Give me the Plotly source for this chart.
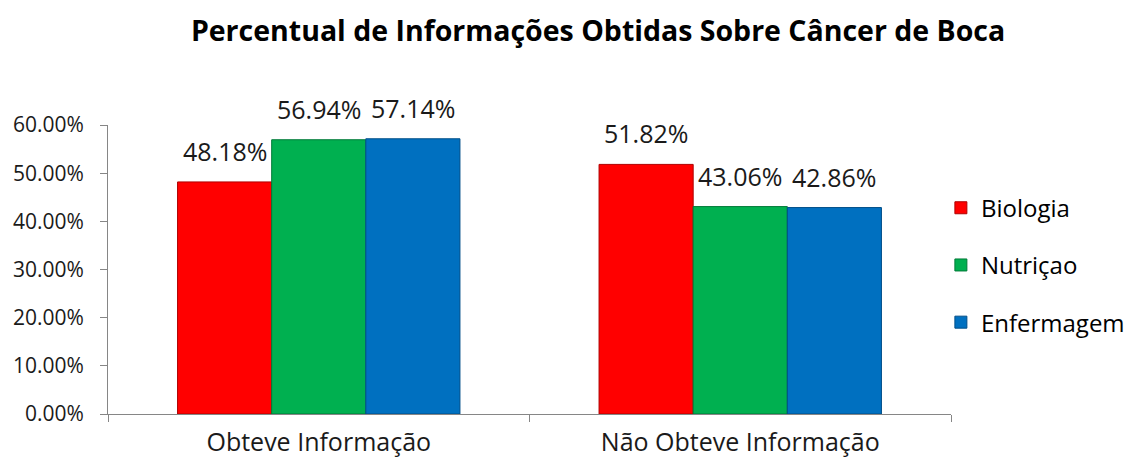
import plotly.graph_objects as go

categories = ["Obteve Informação", "Não Obteve Informação"]
series_names = ["Biologia", "Nutriçao", "Enfermagem"]
biologia = [0.4818, 0.5182]
nutricao = [0.5694, 0.4306]
enfermagem = [0.5714, 0.4286]
series_values = [biologia, nutricao, enfermagem]
colors = ["#FF0000", "#00B050", "#0070C0"]
edge_colors = ["#B00000", "#007A38", "#004E88"]
y_ticks = [0, 0.1, 0.2, 0.3, 0.4, 0.5, 0.6]

FONT = "Open Sans"
bargap = 0.33
n = len(series_names)
bw = (1 - bargap) / n

fig = go.Figure()
for i, (name, vals) in enumerate(zip(series_names, series_values)):
    fig.add_trace(go.Bar(
        x=categories, y=vals, name=name,
        marker=dict(color=colors[i], line=dict(color=edge_colors[i], width=1)),
        legendgroup=name,
    ))
    for j, v in enumerate(vals):
        fig.add_annotation(
            x=j + (i - (n - 1) / 2) * bw, y=v, xref="x", yref="y",
            text=f"{v*100:.2f}%", showarrow=False,
            yanchor="bottom", xanchor="center", yshift=12,
            font=dict(family=FONT, size=25, color="#1a1a1a"),
        )

fig.update_layout(
    width=1137, height=465,
    margin=dict(l=108, r=186, t=125, b=51, autoexpand=False),
    paper_bgcolor="white", plot_bgcolor="white",
    barmode="group", bargap=bargap, bargroupgap=0,
    title=dict(
        text="<b>Percentual de Informações Obtidas Sobre Câncer de Boca</b>",
        x=0.526, xref="container", xanchor="center",
        y=1 - 31 / 465, yref="container", yanchor="middle",
        font=dict(family=FONT, size=28.5, color="black"),
    ),
    legend=dict(
        x=0.988, xanchor="left", y=0.515, yanchor="middle",
        font=dict(family=FONT, size=24, color="black"),
        tracegroupgap=23, bgcolor="rgba(0,0,0,0)",
    ),
    showlegend=True,
)
fig.update_xaxes(
    type="category", tickson="boundaries", automargin=False,
    showline=True, linecolor="#868686", linewidth=1,
    ticks="outside", ticklen=7, tickcolor="#868686",
    tickfont=dict(family=FONT, size=25, color="#1a1a1a"),
    showgrid=False, ticklabelstandoff=6,
)
fig.update_yaxes(
    range=[0, 0.6], tickvals=y_ticks, tickformat=".2%", automargin=False,
    showline=True, linecolor="#868686", linewidth=1,
    ticks="outside", ticklen=7, tickcolor="#868686",
    tickfont=dict(family=FONT, size=21, color="#1a1a1a"),
    showgrid=False, zeroline=False, ticklabelstandoff=12,
)

fig.write_html(
    "out.html",
    config={"displayModeBar": False},
    post_script="document.body.style.margin='0';document.body.style.overflow='hidden';",
)
